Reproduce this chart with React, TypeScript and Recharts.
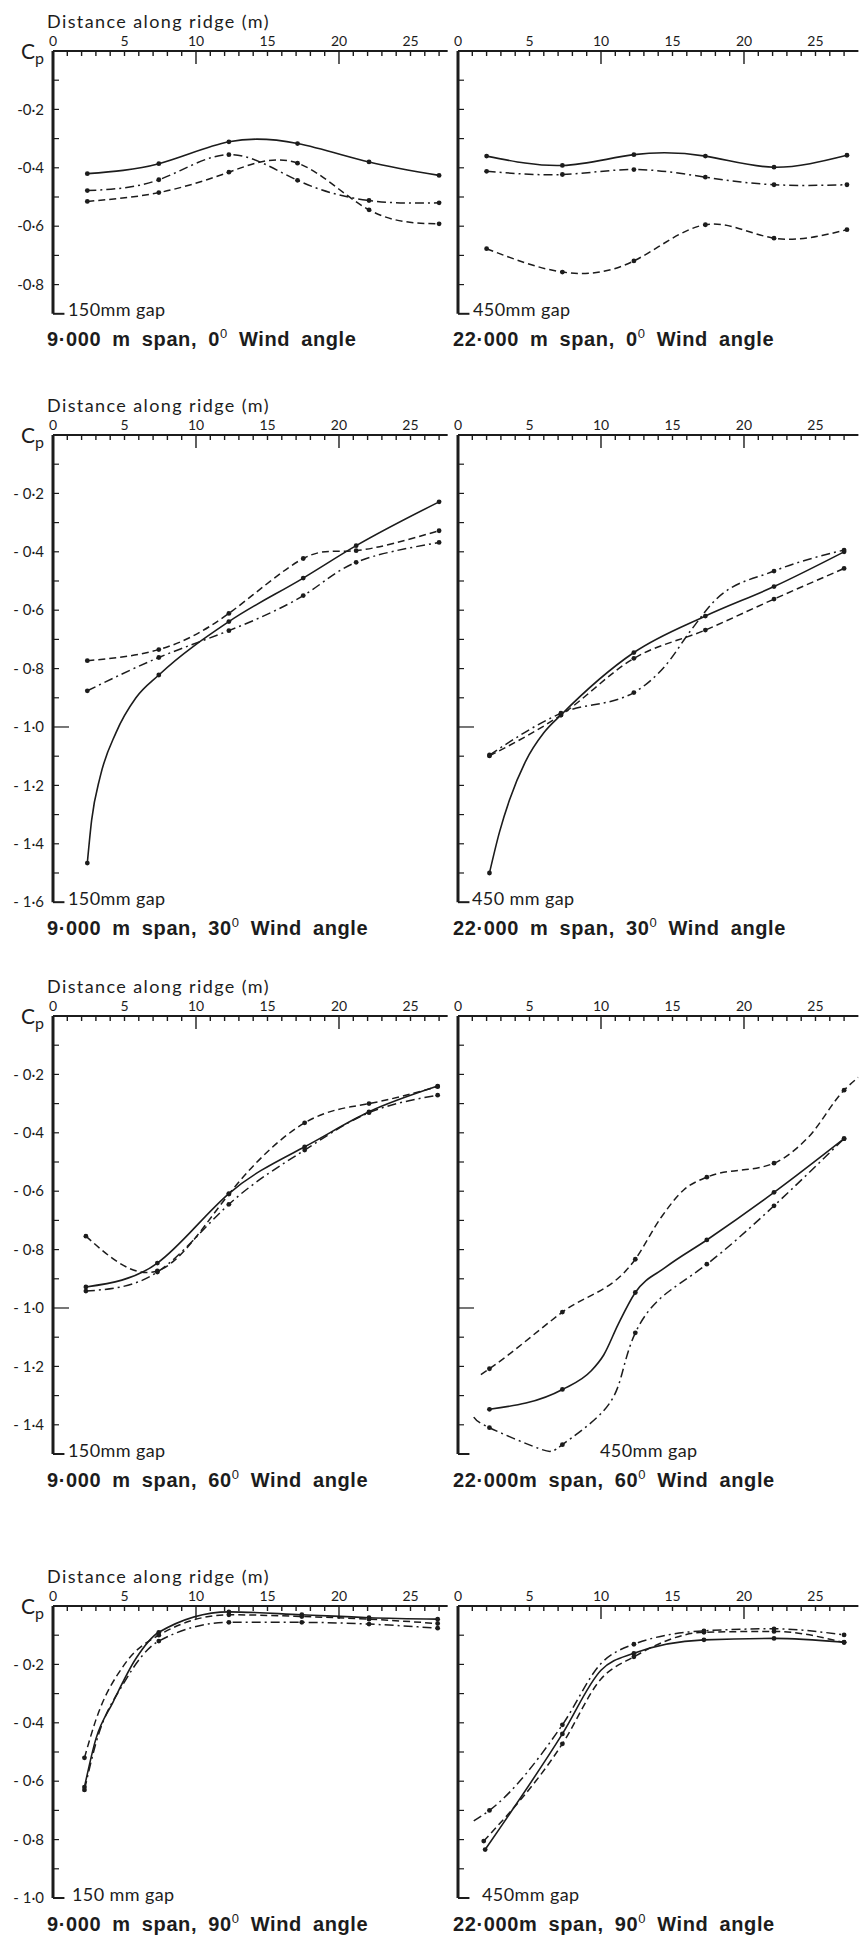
import React from 'react';
import { LineChart, Line, XAxis, YAxis, ReferenceLine } from 'recharts';

type Pt = [number, number];

// Cp: [distance along ridge (m), Cp]
// 9·000 m span, 0° wind
const s9a0Solid: Pt[] = [[2.4, -0.42], [7.4, -0.386], [12.3, -0.311], [17.1, -0.317], [22.1, -0.38], [27.0, -0.426]];
const s9a0Dashed: Pt[] = [[2.4, -0.515], [7.4, -0.485], [12.3, -0.415], [17.1, -0.384], [22.1, -0.544], [27.0, -0.592]];
const s9a0DashDot: Pt[] = [[2.4, -0.478], [7.4, -0.441], [12.3, -0.355], [17.1, -0.443], [22.1, -0.512], [27.0, -0.52]];

// 22·000 m span, 0° wind
const s22a0Solid: Pt[] = [[2.0, -0.36], [7.3, -0.392], [12.3, -0.355], [17.3, -0.36], [22.1, -0.398], [27.2, -0.357]];
const s22a0Dashed: Pt[] = [[2.0, -0.677], [7.3, -0.757], [12.3, -0.719], [17.3, -0.595], [22.1, -0.641], [27.2, -0.612]];
const s22a0DashDot: Pt[] = [[2.0, -0.412], [7.3, -0.423], [12.3, -0.406], [17.3, -0.432], [22.1, -0.458], [27.2, -0.458]];

// 9·000 m span, 30° wind
const s9a30Solid: Pt[] = [[2.4, -1.466], [7.4, -0.822], [12.3, -0.639], [17.5, -0.49], [21.2, -0.379], [27.0, -0.229]];
const s9a30SolidTrace: Pt[] = [[2.7, -1.32], [3.3, -1.17], [4.4, -1.02], [5.8, -0.9]];
const s9a30Dashed: Pt[] = [[2.4, -0.773], [7.4, -0.735], [12.3, -0.611], [17.5, -0.423], [21.2, -0.396], [27.0, -0.328]];
const s9a30DashDot: Pt[] = [[2.4, -0.876], [7.4, -0.762], [12.3, -0.67], [17.5, -0.55], [21.2, -0.436], [27.0, -0.368]];

// 22·000 m span, 30° wind
const s22a30Solid: Pt[] = [[2.2, -1.5], [7.2, -0.959], [12.3, -0.745], [17.3, -0.62], [22.1, -0.519], [27.0, -0.4]];
const s22a30SolidTrace: Pt[] = [[2.9, -1.36], [3.6, -1.25], [4.7, -1.12], [6.0, -1.02]];
const s22a30Dashed: Pt[] = [[2.2, -1.099], [7.2, -0.959], [12.3, -0.765], [17.3, -0.668], [22.1, -0.562], [27.0, -0.457]];
const s22a30DashDot: Pt[] = [[2.2, -1.096], [7.2, -0.953], [12.3, -0.882], [22.1, -0.466], [27.0, -0.394]];
const s22a30DashDotTrace: Pt[] = [[14.5, -0.79], [16.3, -0.668], [18.0, -0.565]];

// 9·000 m span, 60° wind
const s9a60Solid: Pt[] = [[2.3, -0.928], [7.3, -0.846], [12.3, -0.608], [17.6, -0.448], [22.1, -0.328], [26.9, -0.24]];
const s9a60Dashed: Pt[] = [[2.3, -0.754], [7.3, -0.873], [12.3, -0.61], [17.6, -0.366], [22.1, -0.3], [26.9, -0.242]];
const s9a60DashDot: Pt[] = [[2.3, -0.942], [7.3, -0.877], [12.3, -0.645], [17.6, -0.459], [22.1, -0.331], [26.9, -0.271]];

// 22·000 m span, 60° wind
const s22a60Solid: Pt[] = [[2.2, -1.347], [7.3, -1.279], [12.4, -0.947], [17.4, -0.767], [22.1, -0.604], [27.0, -0.42]];
const s22a60SolidTrace: Pt[] = [[9.3, -1.216], [10.2, -1.16], [11.2, -1.056], [14.5, -0.861]];
const s22a60Dashed: Pt[] = [[2.2, -1.208], [7.3, -1.014], [12.4, -0.833], [17.4, -0.552], [22.1, -0.504], [27.0, -0.254]];
const s22a60DashedTrace: Pt[] = [[1.6, -1.228], [14.2, -0.69], [15.8, -0.595], [24.5, -0.415], [28.0, -0.21]];
const s22a60DashDot: Pt[] = [[2.2, -1.41], [7.3, -1.468], [12.4, -1.085], [17.4, -0.85], [22.1, -0.65], [27.0, -0.42]];
const s22a60DashDotTrace: Pt[] = [[1.1, -1.374], [5.7, -1.482], [10.2, -1.351], [11.5, -1.219], [14.2, -0.965]];

// 9·000 m span, 90° wind
const s9a90Solid: Pt[] = [[2.2, -0.62], [7.4, -0.09], [12.3, -0.02], [17.4, -0.03], [22.1, -0.04], [26.9, -0.045]];
const s9a90SolidTrace: Pt[] = [[3.0, -0.455], [4.2, -0.329], [5.8, -0.18]];
const s9a90Dashed: Pt[] = [[2.2, -0.52], [7.4, -0.1], [12.3, -0.03], [17.4, -0.036], [22.1, -0.045], [26.9, -0.06]];
const s9a90DashedTrace: Pt[] = [[3.0, -0.39], [5.0, -0.2]];
const s9a90DashDot: Pt[] = [[2.2, -0.63], [7.4, -0.12], [12.3, -0.056], [17.4, -0.056], [22.1, -0.062], [26.9, -0.076]];
const s9a90DashDotTrace: Pt[] = [[3.0, -0.47], [5.0, -0.26]];

// 22·000 m span, 90° wind
const s22a90Solid: Pt[] = [[1.9, -0.834], [7.3, -0.438], [12.3, -0.162], [17.2, -0.116], [22.1, -0.111], [27.0, -0.124]];
const s22a90SolidTrace: Pt[] = [[10.0, -0.22]];
const s22a90Dashed: Pt[] = [[1.8, -0.805], [7.3, -0.472], [12.3, -0.174], [17.2, -0.09], [22.1, -0.087], [27.0, -0.125]];
const s22a90DashedTrace: Pt[] = [[10.0, -0.25]];
const s22a90DashDot: Pt[] = [[2.2, -0.7], [7.3, -0.407], [12.3, -0.131], [17.2, -0.085], [22.1, -0.078], [27.0, -0.099]];
const s22a90DashDotTrace: Pt[] = [[1.1, -0.736], [10.0, -0.197]];

const windAngles = ['0', '30', '60', '90'];
const spanLabels = [
  ['9·000 m span,', '22·000 m span,'],
  ['9·000 m span,', '22·000 m span,'],
  ['9·000 m span,', '22·000m span,'],
  ['9·000 m span,', '22·000m span,'],
];
const gapLabels = [
  ['150mm gap', '450mm gap'],
  ['150mm gap', '450 mm gap'],
  ['150mm gap', '450mm gap'],
  ['150 mm gap', '450mm gap'],
];
const xTicks = Array.from({ length: 28 }, (_, i) => i);

const INK = '#1c1c1c';
const PX_PER_M = 14.3;
const PX_PER_CP = 292;
const rowAxisY = [50.5, 434.5, 1016, 1606];
const rowCpMin = [-0.9, -1.6, -1.5, -1.0];
const colAxisX = [53, 457.5];
const colMaxM = [27.6, 28.0];
const gapX = [[68, 473], [68, 472], [68, 600], [72, 482]];
const LABEL_FONT = 'Lato, "Open Sans", sans-serif';
const TITLE_FONT = '"Liberation Sans", Arial, sans-serif';

type Kind = 'solid' | 'dashed' | 'dashdot';
const dashes: Record<Kind, string | undefined> = { solid: undefined, dashed: '7 4', dashdot: '9 4 2 4' };

const line = (marks: Pt[], kind: Kind, trace: Pt[] = [], curve: 'natural' | 'monotone' = 'natural') => ({
  kind,
  curve,
  data: [
    ...marks.map(([x, y]) => ({ x, y, m: true })),
    ...trace.map(([x, y]) => ({ x, y, m: false })),
  ].sort((a, b) => a.x - b.x),
});

const panels = [
  { row: 0, col: 0, series: [line(s9a0Solid, 'solid'), line(s9a0Dashed, 'dashed'), line(s9a0DashDot, 'dashdot')] },
  { row: 0, col: 1, series: [line(s22a0Solid, 'solid'), line(s22a0Dashed, 'dashed'), line(s22a0DashDot, 'dashdot')] },
  {
    row: 1, col: 0, series: [
      line(s9a30Solid, 'solid', s9a30SolidTrace, 'monotone'),
      line(s9a30Dashed, 'dashed'),
      line(s9a30DashDot, 'dashdot'),
    ],
  },
  {
    row: 1, col: 1, series: [
      line(s22a30Solid, 'solid', s22a30SolidTrace, 'monotone'),
      line(s22a30Dashed, 'dashed', [], 'monotone'),
      line(s22a30DashDot, 'dashdot', s22a30DashDotTrace, 'monotone'),
    ],
  },
  { row: 2, col: 0, series: [line(s9a60Solid, 'solid'), line(s9a60Dashed, 'dashed'), line(s9a60DashDot, 'dashdot')] },
  {
    row: 2, col: 1, series: [
      line(s22a60Solid, 'solid', s22a60SolidTrace, 'monotone'),
      line(s22a60Dashed, 'dashed', s22a60DashedTrace, 'monotone'),
      line(s22a60DashDot, 'dashdot', s22a60DashDotTrace, 'natural'),
    ],
  },
  {
    row: 3, col: 0, series: [
      line(s9a90Solid, 'solid', s9a90SolidTrace, 'monotone'),
      line(s9a90Dashed, 'dashed', s9a90DashedTrace, 'monotone'),
      line(s9a90DashDot, 'dashdot', s9a90DashDotTrace, 'monotone'),
    ],
  },
  {
    row: 3, col: 1, series: [
      line(s22a90Solid, 'solid', s22a90SolidTrace, 'monotone'),
      line(s22a90Dashed, 'dashed', s22a90DashedTrace, 'monotone'),
      line(s22a90DashDot, 'dashdot', s22a90DashDotTrace, 'monotone'),
    ],
  },
];

const cpTicks = (min: number) => Array.from({ length: Math.round(-min * 10) + 1 }, (_, i) => -i / 10);

const XTick = (p: any) => {
  const v = p.payload.value;
  const len = v > 0 && v % 10 === 0 ? 13 : 5;
  return (
    <g>
      <line x1={p.x} x2={p.x} y1={p.y} y2={p.y + len} stroke={INK} strokeWidth={1.4} />
      {v % 5 === 0 && (
        <text x={p.x} y={p.y - 5} textAnchor="middle" fontSize={14} fontFamily={LABEL_FONT} fill={INK}>
          {v}
        </text>
      )}
    </g>
  );
};

const makeYTick = (labels: boolean, spaced: boolean, min: number) => (p: any) => {
  const tenths = Math.round(-p.payload.value * 10);
  if (tenths === 0) return <g />;
  const atBottom = tenths === Math.round(-min * 10);
  const len = tenths % 10 === 0 && !atBottom ? 16 : 6;
  const txt = `-${spaced ? ' ' : ''}${Math.floor(tenths / 10)}·${tenths % 10}`;
  return (
    <g>
      {!atBottom && <line x1={p.x} x2={p.x + len} y1={p.y} y2={p.y} stroke={INK} strokeWidth={1.2} />}
      {labels && tenths % 2 === 0 && (
        <text x={p.x - 9} y={p.y} dy="0.35em" textAnchor="end" fontSize={15} fontFamily={LABEL_FONT} fill={INK}>
          {txt}
        </text>
      )}
    </g>
  );
};

const markDot = (p: any) =>
  p.payload.m ? <circle key={p.index} cx={p.cx} cy={p.cy} r={2.4} fill={INK} /> : <g key={p.index} />;

function Panel({ row, col, series }: (typeof panels)[number]) {
  const x0 = colAxisX[col];
  const y0 = rowAxisY[row];
  const xMax = colMaxM[col];
  const yMin = rowCpMin[row];
  const YW = 50;
  const XH = 30;
  const PAD = 6;
  const PAD_BOTTOM = 16;
  const plotW = xMax * PX_PER_M;
  const plotH = -yMin * PX_PER_CP;
  return (
    <div style={{ position: 'absolute', left: x0 - YW, top: y0 - XH }}>
      <LineChart
        width={YW + plotW + PAD}
        height={XH + plotH + PAD_BOTTOM}
        margin={{ top: 0, right: PAD, bottom: PAD_BOTTOM, left: 0 }}
      >
        <XAxis
          type="number"
          dataKey="x"
          orientation="top"
          domain={[0, xMax]}
          ticks={xTicks}
          interval={0}
          height={XH}
          tickSize={0}
          tickMargin={0}
          tickLine={false}
          axisLine={{ stroke: INK, strokeWidth: 2 }}
          tick={XTick}
          allowDataOverflow
        />
        <YAxis
          type="number"
          domain={[yMin, 0]}
          ticks={cpTicks(yMin)}
          interval={0}
          width={YW}
          tickSize={0}
          tickMargin={0}
          tickLine={false}
          axisLine={{ stroke: INK, strokeWidth: 3 }}
          tick={makeYTick(col === 0, row > 0, yMin)}
          allowDataOverflow
        />
        <ReferenceLine
          segment={[{ x: 0, y: yMin }, { x: 0.8, y: yMin }]}
          stroke={INK}
          strokeWidth={2}
          ifOverflow="visible"
        />
        {series.map((s, i) => (
          <Line
            key={i}
            data={s.data}
            dataKey="y"
            type={s.curve}
            stroke={INK}
            strokeWidth={s.kind === 'solid' ? 1.6 : 1.5}
            strokeDasharray={dashes[s.kind]}
            dot={markDot}
            activeDot={false}
            isAnimationActive={false}
          />
        ))}
      </LineChart>
    </div>
  );
}

const abs = (left: number, top: number, extra: React.CSSProperties = {}): React.CSSProperties => ({
  position: 'absolute',
  left,
  top,
  transform: 'translateY(-50%)',
  whiteSpace: 'nowrap',
  lineHeight: 1,
  color: INK,
  ...extra,
});

export default function App() {
  return (
    <div
      style={{
        position: 'absolute',
        left: 0,
        top: 0,
        width: 861,
        height: 1935,
        background: '#fff',
        overflow: 'hidden',
        fontFamily: LABEL_FONT,
      }}
    >
      {panels.map((p, i) => (
        <Panel key={i} {...p} />
      ))}
      {rowAxisY.map((y0, row) => {
        const bottom = y0 - rowCpMin[row] * PX_PER_CP;
        return (
          <React.Fragment key={row}>
            <div style={abs(47, y0 - 30, { fontSize: 18, letterSpacing: 1.4 })}>Distance along ridge (m)</div>
            <div style={abs(21, y0 - 1, { fontSize: 21 })}>
              C<span style={{ fontSize: 16, position: 'relative', top: 5 }}>p</span>
            </div>
            {[0, 1].map((col) => (
              <React.Fragment key={col}>
                <div style={abs(gapX[row][col], bottom - 4, { fontSize: 18, letterSpacing: 0.4 })}>
                  {gapLabels[row][col]}
                </div>
                <div
                  style={abs(col === 0 ? 47 : 453, bottom + 26, {
                    fontFamily: TITLE_FONT,
                    fontWeight: 700,
                    fontSize: 20,
                    letterSpacing: 0.6,
                    wordSpacing: 5,
                  })}
                >
                  {spanLabels[row][col]} {windAngles[row]}
                  <span style={{ fontSize: 13, fontWeight: 400, position: 'relative', top: -8 }}>0</span> Wind angle
                </div>
              </React.Fragment>
            ))}
          </React.Fragment>
        );
      })}
    </div>
  );
}
